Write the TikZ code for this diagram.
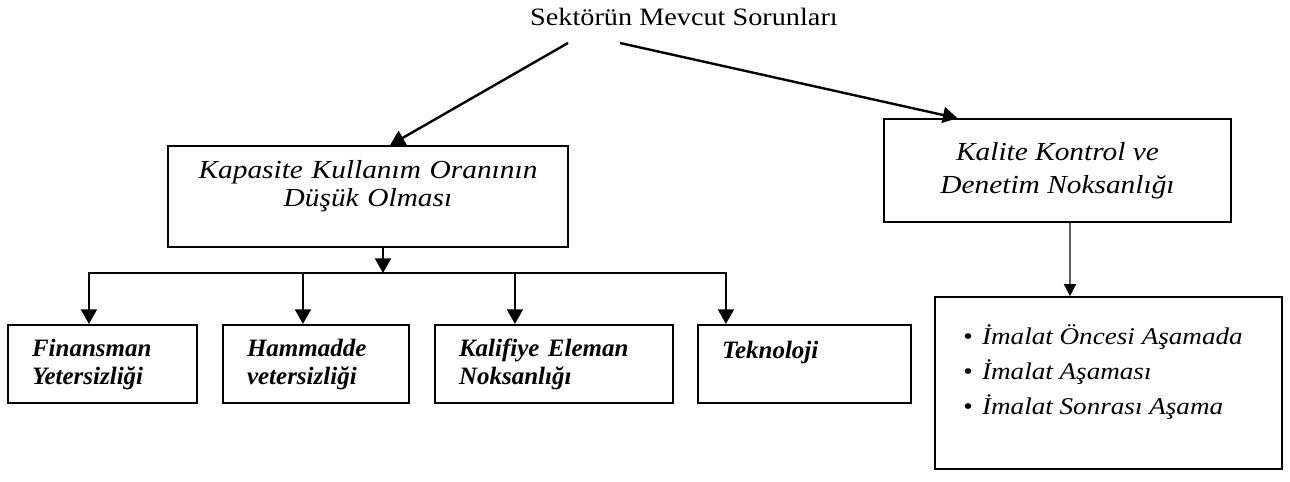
\documentclass[tikz,border=0pt]{standalone}
\usepackage{fontspec}
\usepackage{tikz}
\usetikzlibrary{arrows.meta}
\setmainfont{Liberation Serif}
\newfontfamily\genis[FakeStretch=1.13]{Liberation Serif}

\begin{document}
\begin{tikzpicture}[x=0.75pt, y=-0.75pt,
ust/.style={draw, line width=1.2pt, align=center, font=\genis\itshape\fontsize{19.5}{21}\selectfont},
alt/.style={draw, line width=1.6pt, align=left, inner xsep=18pt, minimum height=58.5pt, font=\bfseries\itshape\fontsize{18.75}{21}\selectfont},
madde/.style={anchor=base west, inner sep=0pt, font=\genis\itshape\fontsize{18}{21}\selectfont},
ok/.style={line width=1.6pt, -{Triangle[width=12pt,length=11pt]}}]
\useasboundingbox (0,0) rectangle (1290,482);

\node [font=\genis\fontsize{18.75}{21}\selectfont] (baslik) at (684,17) {Sektörün Mevcut Sorunları};
\coordinate (sol) at (568,43);
\coordinate (sag) at (620,43);

\node [ust, text width=260pt, minimum width=300pt, minimum height=75.75pt, text depth=40pt] (kapasite) at (368,196.5) {Kapasite Kullanım Oranının\\Düşük Olması};
\node [ust, minimum width=260.25pt, minimum height=77.25pt, font=\genis\itshape\fontsize{19.5}{24.75}\selectfont] (kalite) at (1057.5,170.5) {Kalite Kontrol ve\\Denetim Noksanlığı};

\draw [ok, line width=1.8pt] (sol) -- ([xshift=16.5pt]kapasite.north);
\draw [ok, line width=1.8pt] (sag) -- ([xshift=-75pt]kalite.north);

\node [alt, text width=105.75pt] (finansman) at (102.5,364) {Finansman\\Yetersizliği};
\node [alt, text width=103.5pt] (hammadde) at (316,364) {Hammadde\\vetersizliği};
\node [alt, text width=142.5pt] (kalifiye) at (554,364) {Kalifiye Eleman\\Noksanlığı};
\node [alt, text width=123.75pt] (teknoloji) at (804.5,364) {Teknoloji\\\mbox{}};

\coordinate (dal) at (383,273);
\draw [ok] ([xshift=11.25pt]kapasite.south) -- (dal);
\draw [ok] (dal) -| ([xshift=61.5pt]finansman.north west);
\draw [ok] (dal) -| ([xshift=60.75pt]hammadde.north west);
\draw [ok] (dal) -| ([xshift=60.75pt]kalifiye.north west);
\draw [ok] (dal) -| ([xshift=21.75pt]teknoloji.north west);

\node [draw, line width=1.2pt, minimum width=260.25pt, minimum height=129pt] (asama) at (1108.5,383) {};
\draw [ok, line width=1pt, -{Triangle[width=9pt,length=9pt]}] ([xshift=9.4pt]kalite.south) -- ([xshift=-28.9pt]asama.north);

\node [madde] (madde1) at (963,344) {{\upshape\textbullet}\hspace{7pt}İmalat Öncesi Aşamada};
\node [madde] (madde2) at (963,379) {{\upshape\textbullet}\hspace{7pt}İmalat Aşaması};
\node [madde] (madde3) at (963,414) {{\upshape\textbullet}\hspace{7pt}İmalat Sonrası Aşama};

\end{tikzpicture}
\end{document}
